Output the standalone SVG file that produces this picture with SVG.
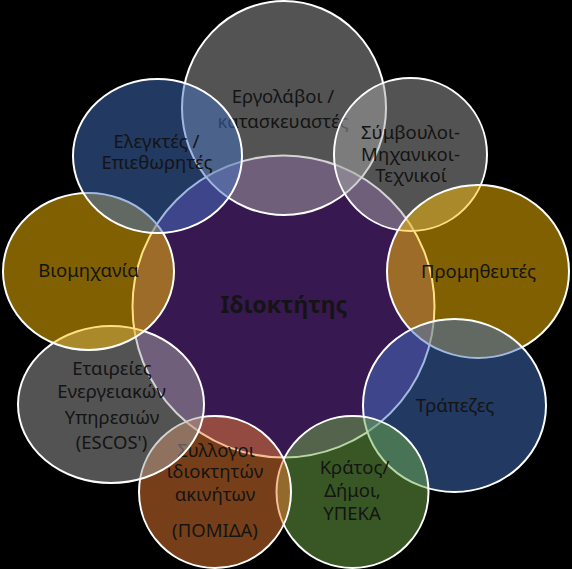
<svg xmlns="http://www.w3.org/2000/svg" width="572" height="569" viewBox="0 0 572 569">
<style>
.sh{fill-opacity:0.5;stroke:#FFFFFF;stroke-width:2}
.gray{fill:#A5A5A5}
.gold{fill:#FFC000}
.blue{fill:#4472C4}
.green{fill:#70AD47}
.orange{fill:#ED7D31}
.purple{fill:#7030A0}
text{font-family:"Noto Sans","Open Sans","Liberation Sans",sans-serif;font-size:18.5px;fill:#141414;text-anchor:middle}
.main{font-size:23px;font-weight:bold}
</style>
<rect x="0" y="0" width="572" height="569" fill="#000000"/>
<g id="center">
<circle class="sh purple" cx="283.5" cy="306.5" r="151"/>
<text class="main" x="284" y="313">Ιδιοκτήτης</text>
</g>
<g id="n1">
<ellipse class="sh gray" cx="284" cy="108" rx="102" ry="107"/>
<text x="283" y="103">Εργολάβοι /</text>
<text x="283" y="128">κατασκευαστές</text>
</g>
<g id="n2">
<circle class="sh gray" cx="410.5" cy="154.5" r="76.5"/>
<text x="410.5" y="139">Σύμβουλοι-</text>
<text x="410.5" y="160.5">Μηχανικοι-</text>
<text x="411" y="182">Τεχνικοί</text>
</g>
<g id="n3">
<ellipse class="sh gold" cx="478" cy="271.5" rx="91" ry="86.5"/>
<text x="478.5" y="278">Προμηθευτές</text>
</g>
<g id="n4">
<ellipse class="sh blue" cx="454.5" cy="405.5" rx="91.5" ry="86.5"/>
<text x="455" y="412">Τράπεζες</text>
</g>
<g id="n5">
<circle class="sh green" cx="352.5" cy="492" r="76"/>
<text x="354.5" y="474">Κράτος/</text>
<text x="352.5" y="497">Δήμοι,</text>
<text x="352" y="520">ΥΠΕΚΑ</text>
</g>
<g id="n6">
<circle class="sh orange" cx="215" cy="492" r="76"/>
<text x="216" y="457">Συλλογοι</text>
<text x="215" y="478">ιδιοκτητών</text>
<text x="215" y="501">ακινήτων</text>
<text x="215" y="537">(ΠΟΜΙΔΑ)</text>
</g>
<g id="n7">
<ellipse class="sh gray" cx="111" cy="404.5" rx="93" ry="78.5"/>
<text x="112" y="375">Εταιρείες</text>
<text x="111.5" y="398">Ενεργειακών</text>
<text x="112" y="424">Υπηρεσιών</text>
<text x="111.5" y="449">(ESCOS')</text>
</g>
<g id="n8">
<ellipse class="sh gold" cx="88.5" cy="271.5" rx="85.5" ry="78.5"/>
<text x="88.5" y="277">Βιομηχανία</text>
</g>
<g id="n9">
<ellipse class="sh blue" cx="157.5" cy="156" rx="84.5" ry="77"/>
<text x="156.5" y="148">Ελεγκτές /</text>
<text x="157" y="169">Επιεθωρητές</text>
</g>
<g id="connectors"></g>
</svg>
